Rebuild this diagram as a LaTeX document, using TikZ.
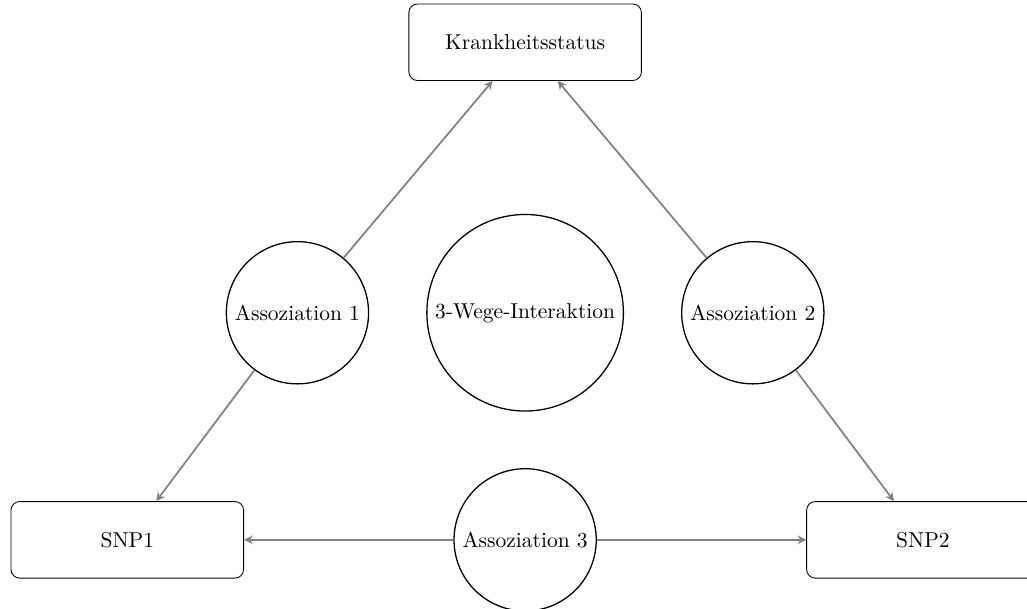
\documentclass[tikz,border=0pt]{standalone}
\usepackage{tikz}
\usepackage{xcolor}
\usetikzlibrary{positioning,calc}

\begin{document}
\begin{tikzpicture}[
    box/.style={draw, rounded corners, minimum width=3.8cm, minimum height=1.25cm},
    assoc/.style={draw, circle, semithick},
    link/.style={->, >=stealth, thick, gray}
  ]
      \useasboundingbox (-8.58,-4.84) rectangle (8.2,5.11);

      \node[box] (status) at (0,4.42) {Krankheitsstatus};
      \node[box] (snpa) at (-6.5,-3.71) {SNP1};
      \node[box] (snpb) at (6.5,-3.71) {SNP2};

      \node[assoc] (inter) at (0,0) {3-Wege-Interaktion};
      \node[assoc] (assa) at (-3.72,0) {Assoziation 1};
      \node[assoc] (assb) at (3.72,0) {Assoziation 2};
      \node[assoc] (assc) at (0,-3.71) {Assoziation 3};

      \draw[link] (assa) -- (status);
      \draw[link] (assa) -- (snpa);

      \draw[link] (assb) -- (status);
      \draw[link] (assb) -- (snpb);

      \draw[link] (assc) -- (snpa);
      \draw[link] (assc) -- (snpb);
    \end{tikzpicture}
\end{document}
